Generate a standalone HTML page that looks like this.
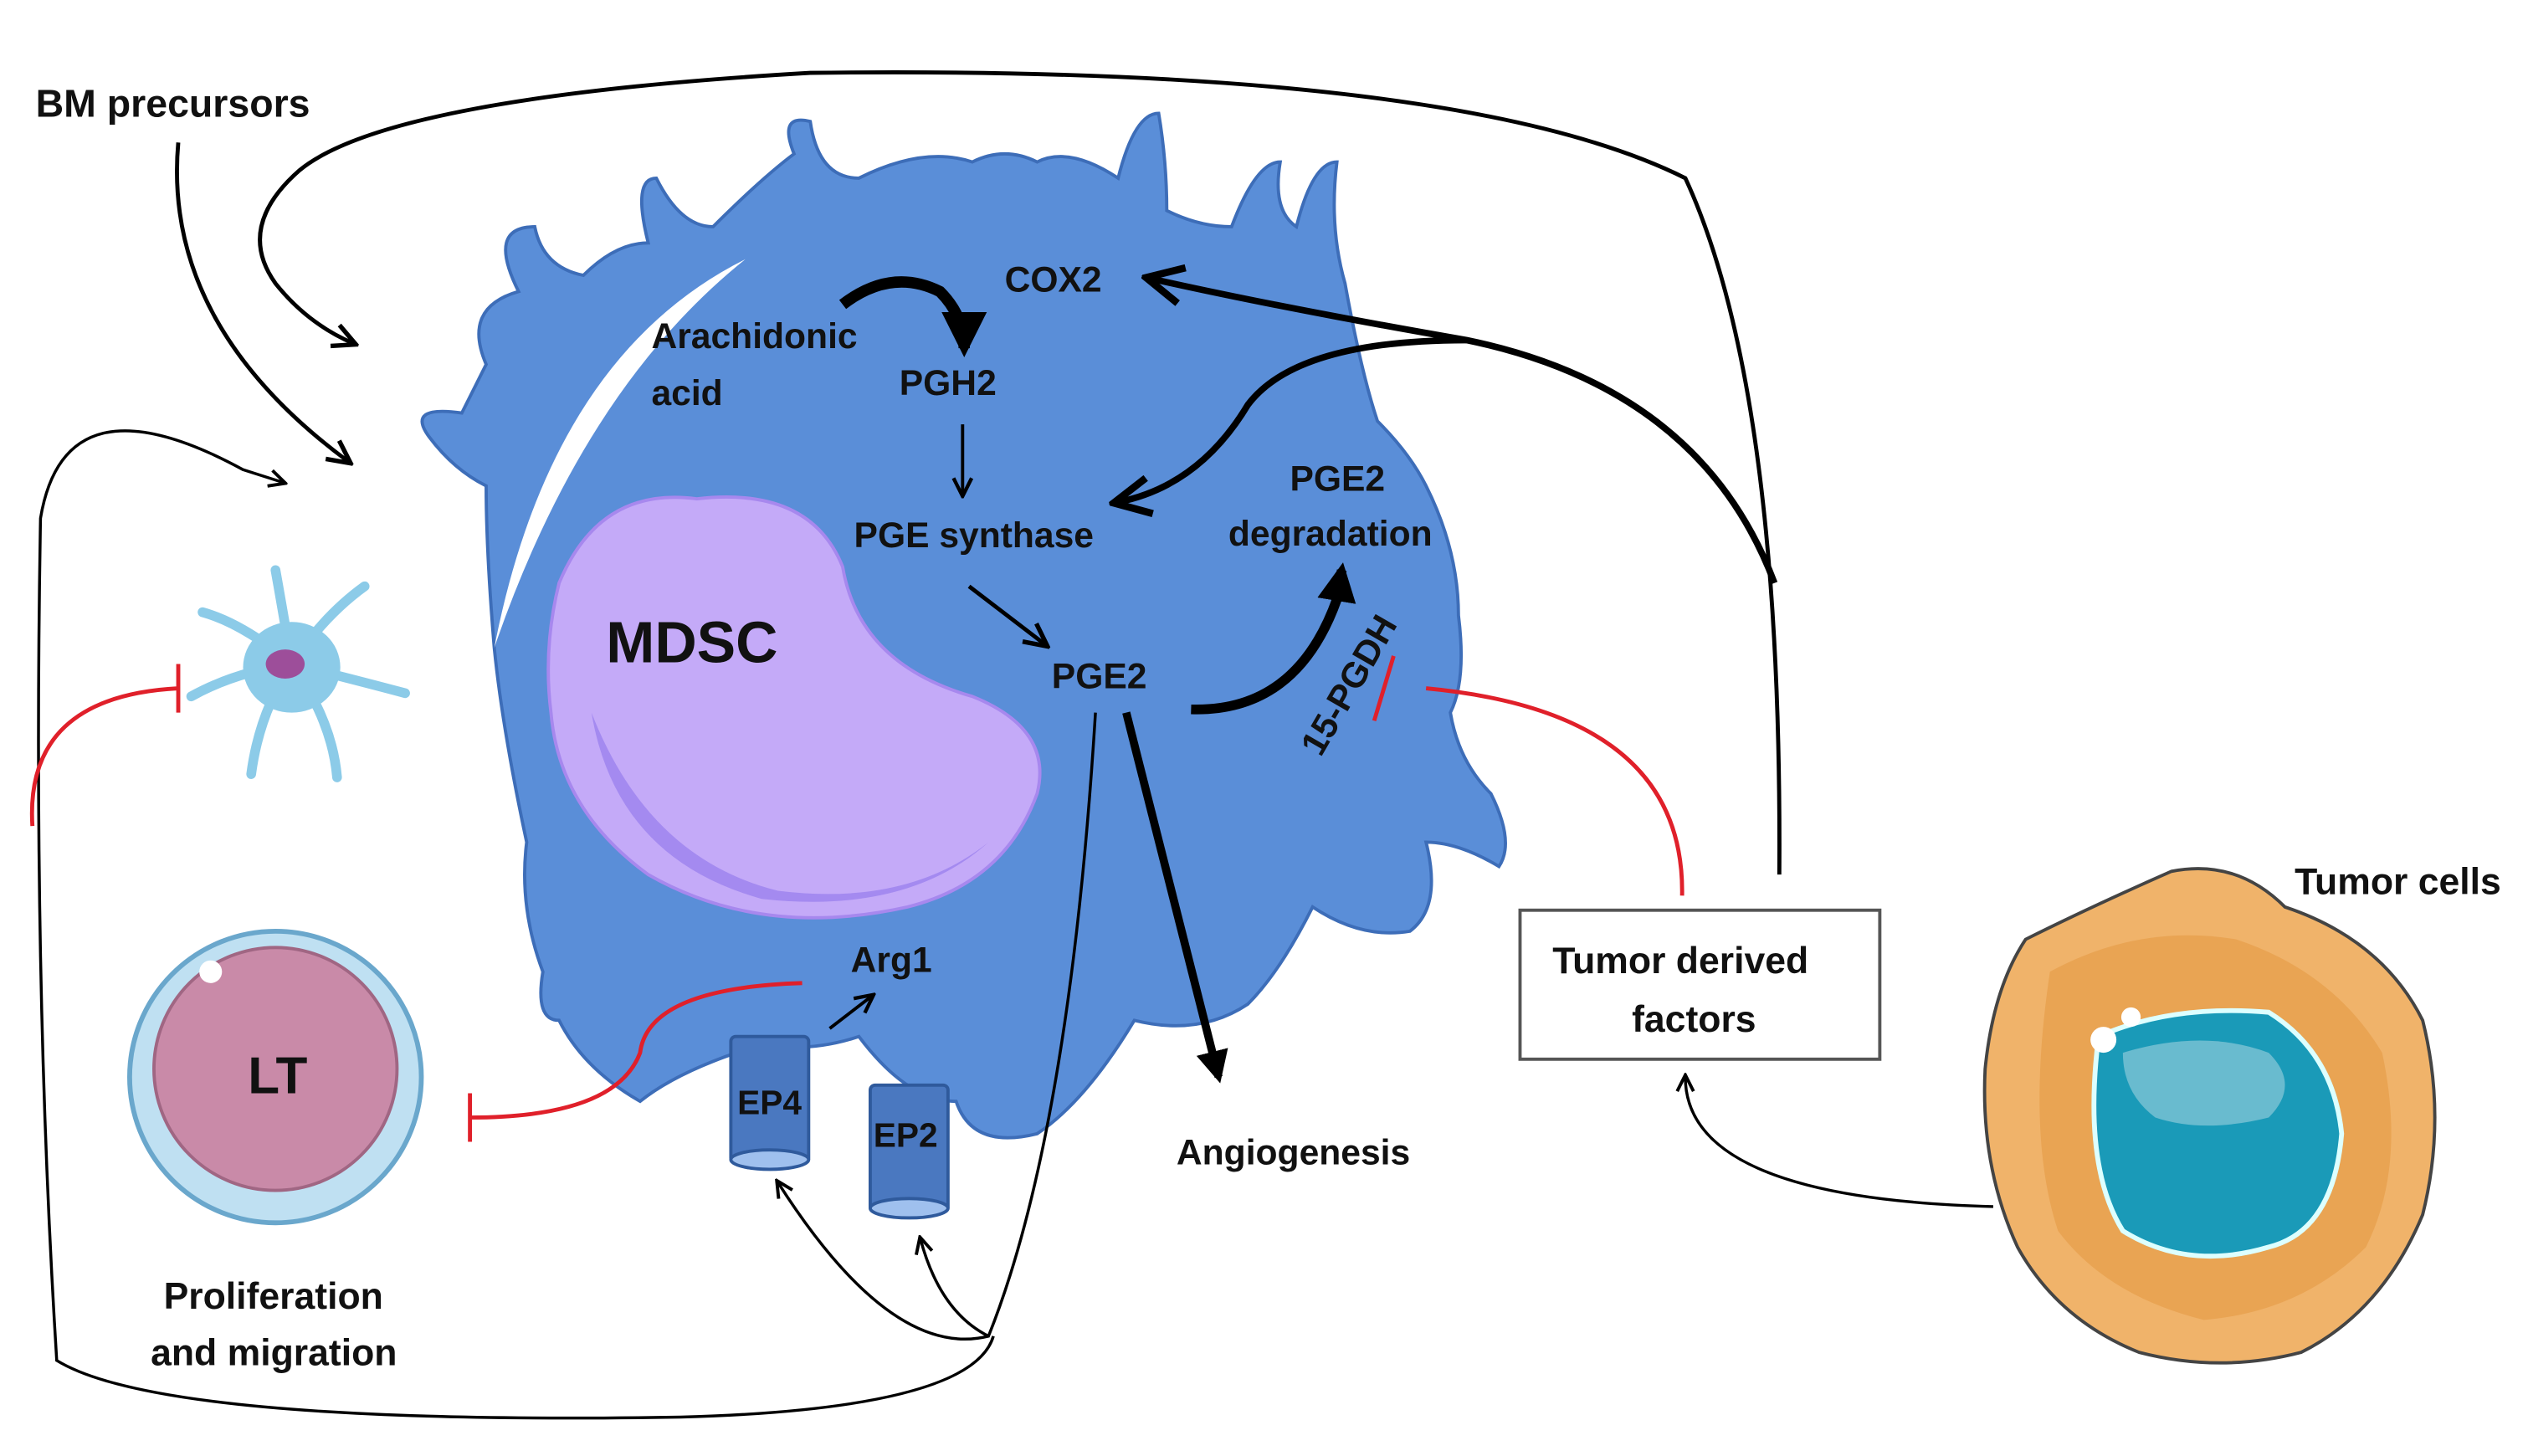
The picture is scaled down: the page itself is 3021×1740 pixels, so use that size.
<!DOCTYPE html>
<html><head><meta charset="utf-8"><style>
html,body{margin:0;padding:0;background:#fff}
svg{display:block}
text{font-family:"Liberation Sans",sans-serif;font-weight:bold;fill:#111}
</style></head><body>
<svg width="3021" height="1740" viewBox="0 0 1560 899" preserveAspectRatio="none" xmlns="http://www.w3.org/2000/svg">
<defs>
<marker id="ah" viewBox="0 0 10 10" refX="8" refY="5" markerWidth="7" markerHeight="7" orient="auto"><path d="M1 1 L9 5 L1 9" fill="none" stroke="#000" stroke-width="1.6"/></marker>
<marker id="ahf" viewBox="0 0 10 10" refX="8" refY="5" markerWidth="4" markerHeight="4" orient="auto"><path d="M0 0 L10 5 L0 10 Z" fill="#000"/></marker>
</defs>
<path d="M265 270 Q250 250 285 255 L300 225 Q285 190 320 180 Q300 140 330 140 Q335 165 360 170 Q380 150 400 150 Q390 110 405 110 Q420 140 440 140 Q470 110 490 95 Q480 70 500 75 Q505 110 530 110 Q570 90 600 100 Q620 90 640 100 Q660 90 690 110 Q700 70 715 70 Q720 100 720 130 Q740 140 760 140 Q775 100 790 100 Q785 130 800 140 Q810 100 825 100 Q820 140 830 175 Q840 230 850 260 Q870 280 880 300 Q900 340 900 380 Q905 420 895 440 Q900 470 920 490 Q935 520 925 535 Q900 520 880 520 Q890 560 870 575 Q840 580 810 560 Q790 600 770 620 Q740 640 700 630 Q670 680 640 700 Q600 710 590 680 Q560 680 530 640 Q500 650 470 645 Q420 660 395 680 Q360 660 345 630 Q330 630 335 600 Q320 560 325 520 Q310 450 305 400 Q300 340 300 300 Q280 290 265 270 Z" fill="#5a8ed8" stroke="#3d6db8" stroke-width="2"/>
<path d="M460 160 Q340 220 305 400 Q360 240 460 160 Z" fill="#fff"/>
<path d="M345 360 Q370 300 430 308 Q500 300 520 350 Q530 410 600 430 Q650 450 640 490 Q620 545 560 560 Q470 580 400 540 Q345 500 340 440 Q335 400 345 360 Z" fill="#c4aaf8" stroke="#a788ee" stroke-width="2"/>
<path d="M365 440 Q380 530 470 555 Q560 565 610 520 Q560 560 480 550 Q400 530 365 440 Z" fill="#a48af0"/>
<rect x="451" y="640" width="48" height="78" fill="#4a78c0" stroke="#2f5a9c" stroke-width="2" rx="3"/>
<ellipse cx="475" cy="716" rx="24" ry="6" fill="#9fc0ee" stroke="#2f5a9c" stroke-width="2"/>
<rect x="537" y="670" width="48" height="78" fill="#4a78c0" stroke="#2f5a9c" stroke-width="2" rx="3"/>
<ellipse cx="561" cy="746" rx="24" ry="6" fill="#9fc0ee" stroke="#2f5a9c" stroke-width="2"/>
<g stroke="#8ccbe8" stroke-width="6" stroke-linecap="round" fill="none">
<path d="M180 410 Q150 385 125 378 M180 410 Q175 380 170 352 M180 410 Q200 380 225 362 M180 410 Q220 420 250 428 M180 410 Q205 445 208 480 M180 410 Q160 440 155 478 M180 410 Q145 415 118 430"/>
</g>
<ellipse cx="180" cy="412" rx="30" ry="28" fill="#8ccbe8"/>
<ellipse cx="176" cy="410" rx="12" ry="9" fill="#9d4e9a"/>
<circle cx="170" cy="665" r="90" fill="#bfe0f2" stroke="#6aa7cc" stroke-width="3"/>
<circle cx="170" cy="660" r="75" fill="#c98aa8" stroke="#a06683" stroke-width="2"/>
<circle cx="130" cy="600" r="7" fill="#fff"/>
<path d="M1250 580 Q1290 560 1340 538 Q1380 530 1410 560 Q1470 580 1495 630 Q1510 690 1495 750 Q1470 810 1420 835 Q1370 848 1320 835 Q1270 815 1245 770 Q1222 720 1225 660 Q1230 610 1250 580 Z" fill="#f0b36a" stroke="#444" stroke-width="2"/>
<path d="M1265 600 Q1320 570 1380 580 Q1440 600 1470 650 Q1485 720 1460 770 Q1420 810 1360 815 Q1300 800 1270 760 Q1250 700 1265 600 Z" fill="#e49a45" opacity="0.6"/>
<path d="M1295 640 Q1340 620 1400 625 Q1440 650 1445 700 Q1440 760 1400 770 Q1350 785 1310 760 Q1285 720 1295 640 Z" fill="#1a9ab8" stroke="#dff" stroke-width="3"/>
<path d="M1310 650 Q1360 635 1400 650 Q1420 670 1400 690 Q1360 700 1330 690 Q1310 675 1310 650 Z" fill="#8cc9d8" opacity="0.7"/>
<circle cx="1298" cy="642" r="8" fill="#fff"/><circle cx="1315" cy="628" r="6" fill="#fff"/>
<rect x="938" y="562" width="222" height="92" fill="#fff" stroke="#555" stroke-width="2"/>
<g fill="none" stroke="#000">
<path d="M110 88 Q100 200 215 285" stroke-width="2.5" marker-end="url(#ah)"/>
<path d="M1098 540 Q1100 240 1040 110 Q900 40 500 45 Q240 60 185 105 Q145 140 170 175 Q190 200 218 212" stroke-width="2.5" marker-end="url(#ah)"/>
<path d="M613 825 Q600 870 420 875 Q100 880 35 840 Q20 600 25 320 Q40 230 150 290 L175 298" stroke-width="1.8" marker-end="url(#ah)"/>
<path d="M676 440 Q660 700 610 825 Q550 840 480 730" stroke-width="1.8" marker-end="url(#ah)"/>
<path d="M610 825 Q580 810 568 765" stroke-width="1.8" marker-end="url(#ah)"/>
<path d="M1095 360 Q1050 240 905 210 Q790 190 710 172" stroke-width="4" marker-end="url(#ah)"/>
<path d="M905 210 Q800 210 770 250 Q740 300 690 310" stroke-width="4" marker-end="url(#ah)"/>
<path d="M520 188 Q550 165 580 180 Q595 195 595 215" stroke-width="7" marker-end="url(#ahf)"/>
<path d="M594 262 L594 305" stroke-width="2" marker-end="url(#ah)"/>
<path d="M598 362 L645 398" stroke-width="2.5" marker-end="url(#ah)"/>
<path d="M735 438 Q800 440 825 370 L828 352" stroke-width="6" marker-end="url(#ahf)"/>
<path d="M695 440 L752 665" stroke-width="5" marker-end="url(#ahf)"/>
<path d="M1230 745 Q1040 740 1040 665" stroke-width="1.8" marker-end="url(#ah)"/>
<path d="M512 635 L538 615" stroke-width="2" marker-end="url(#ah)"/>
</g>
<g fill="none" stroke="#e0202a" stroke-width="2.5">
<path d="M20 510 Q15 430 110 425 M110 410 L110 440"/>
<path d="M495 607 Q400 610 395 650 Q380 690 290 690 M290 675 L290 705"/>
<path d="M1038 553 Q1040 440 880 425 M860 405 L848 445"/>
</g>
<text x="22" y="72" font-size="24">BM precursors</text>
<text x="620" y="180" font-size="22">COX2</text>
<text x="402" y="215" font-size="22">Arachidonic</text>
<text x="402" y="250" font-size="22">acid</text>
<text x="555" y="244" font-size="22">PGH2</text>
<text x="527" y="338" font-size="22">PGE synthase</text>
<text x="796" y="303" font-size="22">PGE2</text>
<text x="758" y="337" font-size="22">degradation</text>
<text x="374" y="409" font-size="36">MDSC</text>
<text x="649" y="425" font-size="22">PGE2</text>
<text x="0" y="0" font-size="22" transform="translate(815 468) rotate(-60)">15-PGDH</text>
<text x="525" y="600" font-size="22">Arg1</text>
<text x="455" y="688" font-size="21">EP4</text>
<text x="539" y="708" font-size="21">EP2</text>
<text x="726" y="719" font-size="22">Angiogenesis</text>
<text x="153" y="675" font-size="32">LT</text>
<text x="101" y="808" font-size="23">Proliferation</text>
<text x="93" y="843" font-size="23">and migration</text>
<text x="958" y="601" font-size="23">Tumor derived</text>
<text x="1007" y="637" font-size="23">factors</text>
<text x="1416" y="552" font-size="23">Tumor cells</text>
</svg>
</body></html>
